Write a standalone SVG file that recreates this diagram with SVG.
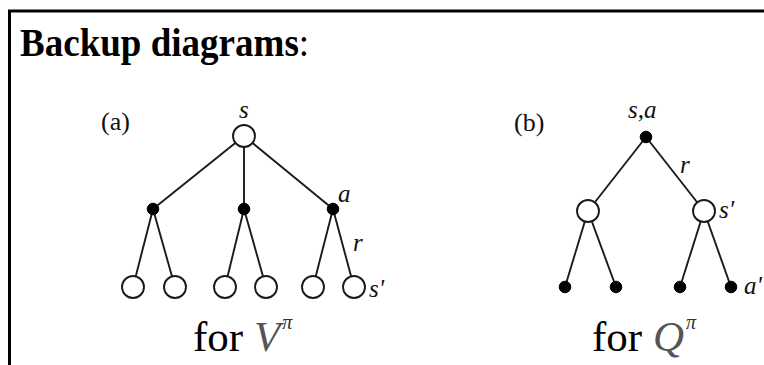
<svg xmlns="http://www.w3.org/2000/svg" width="764" height="365" viewBox="0 0 764 365">
  <style>
    .frame { stroke: #000; stroke-width: 3; fill: none; }
    .edge { stroke: #1a1a1a; stroke-width: 1.9; fill: none; }
    .state { fill: #fff; stroke: #1a1a1a; stroke-width: 1.9; }
    .action { fill: #000; stroke: #000; stroke-width: 1; }
    .title { font-family: "Liberation Serif", serif; font-size: 39px; font-weight: bold; fill: #000; }
    .tag { font-family: "Liberation Serif", serif; font-size: 26px; fill: #111; }
    .var { font-family: "Liberation Serif", serif; font-style: italic; font-size: 25px; fill: #111; }
    .cap { font-family: "Liberation Serif", serif; font-size: 43px; fill: #000; }
    .capi { font-family: "Liberation Serif", serif; font-style: italic; font-size: 43px; fill: #555; }
    .sup { font-family: "Liberation Serif", serif; font-style: italic; font-size: 20px; fill: #333; }
  </style>

  <!-- frame: top and left rules -->
  <path class="frame" d="M9.5,365 V11 H764"/>

  <text class="title" transform="translate(20,56) scale(0.95,1)">Backup diagrams<tspan font-weight="normal">:</tspan></text>

  <!-- (a) backup diagram for V -->
  <g id="connectors-a">
    <line class="edge" x1="244" y1="136" x2="153" y2="209"/>
    <line class="edge" x1="244" y1="136" x2="244" y2="209"/>
    <line class="edge" x1="244" y1="136" x2="333" y2="209"/>
    <line class="edge" x1="153" y1="209" x2="133" y2="287"/>
    <line class="edge" x1="153" y1="209" x2="175" y2="287"/>
    <line class="edge" x1="244" y1="209" x2="225" y2="287"/>
    <line class="edge" x1="244" y1="209" x2="266" y2="287"/>
    <line class="edge" x1="333" y1="209" x2="313" y2="287"/>
    <line class="edge" x1="333" y1="209" x2="354" y2="287"/>
  </g>
  <text class="tag" x="101" y="130">(a)</text>
  <g id="a-root"><circle class="state" cx="244" cy="136" r="11"/><text class="var" x="239" y="118">s</text></g>
  <g id="a-act1"><circle class="action" cx="153" cy="209" r="5.8"/></g>
  <g id="a-act2"><circle class="action" cx="244" cy="209" r="5.8"/></g>
  <g id="a-act3"><circle class="action" cx="333" cy="209" r="5.8"/><text class="var" x="338" y="202">a</text></g>
  <text class="var" x="353" y="251">r</text>
  <g id="a-leaf1"><circle class="state" cx="133" cy="287" r="11"/></g>
  <g id="a-leaf2"><circle class="state" cx="175" cy="287" r="11"/></g>
  <g id="a-leaf3"><circle class="state" cx="225" cy="287" r="11"/></g>
  <g id="a-leaf4"><circle class="state" cx="266" cy="287" r="11"/></g>
  <g id="a-leaf5"><circle class="state" cx="313" cy="287" r="11"/></g>
  <g id="a-leaf6"><circle class="state" cx="354" cy="287" r="11"/><text class="var" x="369" y="297">s'</text></g>
  <text class="cap" x="193" y="351">for <tspan class="capi">V</tspan><tspan class="sup" dx="2" dy="-22">π</tspan></text>

  <!-- (b) backup diagram for Q -->
  <g id="connectors-b">
    <line class="edge" x1="646" y1="137" x2="588" y2="211"/>
    <line class="edge" x1="646" y1="137" x2="704" y2="211"/>
    <line class="edge" x1="588" y1="211" x2="565" y2="287"/>
    <line class="edge" x1="588" y1="211" x2="616" y2="287"/>
    <line class="edge" x1="704" y1="211" x2="680" y2="287"/>
    <line class="edge" x1="704" y1="211" x2="731" y2="287"/>
  </g>
  <text class="tag" x="514" y="131">(b)</text>
  <g id="b-root"><circle class="action" cx="646" cy="137" r="5.8"/><text class="var" x="628" y="118">s,a</text></g>
  <text class="var" x="680" y="173">r</text>
  <g id="b-state1"><circle class="state" cx="588" cy="211" r="11"/></g>
  <g id="b-state2"><circle class="state" cx="704" cy="211" r="11"/><text class="var" x="719" y="218">s'</text></g>
  <g id="b-leaf1"><circle class="action" cx="565" cy="287" r="5.8"/></g>
  <g id="b-leaf2"><circle class="action" cx="616" cy="287" r="5.8"/></g>
  <g id="b-leaf3"><circle class="action" cx="680" cy="287" r="5.8"/></g>
  <g id="b-leaf4"><circle class="action" cx="731" cy="287" r="5.8"/><text class="var" x="744" y="294">a'</text></g>
  <text class="cap" x="592" y="351">for <tspan class="capi">Q</tspan><tspan class="sup" dx="2" dy="-22">π</tspan></text>
</svg>
